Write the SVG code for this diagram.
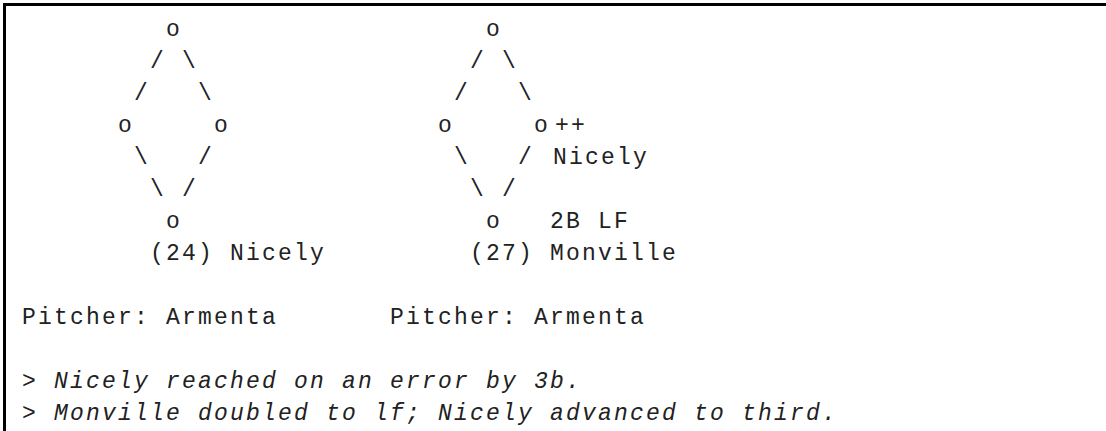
<svg xmlns="http://www.w3.org/2000/svg" width="1106" height="431" viewBox="0 0 1106 431">
<style>
.t { font-family: "Liberation Mono", "DejaVu Sans Mono", monospace; font-size: 23px; letter-spacing: 2.2px; fill: #222; white-space: pre; }
.i { font-style: italic; }
.frame { fill: none; stroke: #000; stroke-width: 3; }
</style>
<rect x="0" y="0" width="1106" height="431" fill="#fff"/>
<path class="frame" d="M4.5 431 V4.5 H1106"/>

<g id="connectors" class="t">
  <text x="150" y="68">/</text><text x="182" y="68">\</text>
  <text x="134" y="100">/</text><text x="198" y="100">\</text>
  <text x="134" y="164">\</text><text x="198" y="164">/</text>
  <text x="150" y="196">\</text><text x="182" y="196">/</text>
  <text x="470" y="68">/</text><text x="502" y="68">\</text>
  <text x="454" y="100">/</text><text x="518" y="100">\</text>
  <text x="454" y="164">\</text><text x="518" y="164">/</text>
  <text x="470" y="196">\</text><text x="502" y="196">/</text>
</g>

<g id="diamond1-second" class="t"><text x="166" y="36">o</text></g>
<g id="diamond1-third" class="t"><text x="118" y="132">o</text></g>
<g id="diamond1-first" class="t"><text x="214" y="132">o</text></g>
<g id="diamond1-home" class="t"><text x="166" y="228">o</text></g>
<g id="diamond1-label" class="t"><text x="150" y="260" xml:space="preserve">(24) Nicely</text></g>

<g id="diamond2-second" class="t"><text x="486" y="36">o</text></g>
<g id="diamond2-third" class="t"><text x="438" y="132">o</text></g>
<g id="diamond2-first" class="t"><text x="534" y="132">o</text><text x="555" y="132">++</text><text x="553" y="164">Nicely</text></g>
<g id="diamond2-home" class="t"><text x="486" y="228">o</text><text x="550" y="228" xml:space="preserve">2B LF</text></g>
<g id="diamond2-label" class="t"><text x="470" y="260" xml:space="preserve">(27) Monville</text></g>

<g id="pitchers" class="t">
  <text x="22" y="324" xml:space="preserve">Pitcher: Armenta</text>
  <text x="390" y="324" xml:space="preserve">Pitcher: Armenta</text>
</g>

<g id="notes" class="t i">
  <text x="22" y="388" xml:space="preserve">&gt; Nicely reached on an error by 3b.</text>
  <text x="22" y="420" xml:space="preserve">&gt; Monville doubled to lf; Nicely advanced to third.</text>
</g>
</svg>
